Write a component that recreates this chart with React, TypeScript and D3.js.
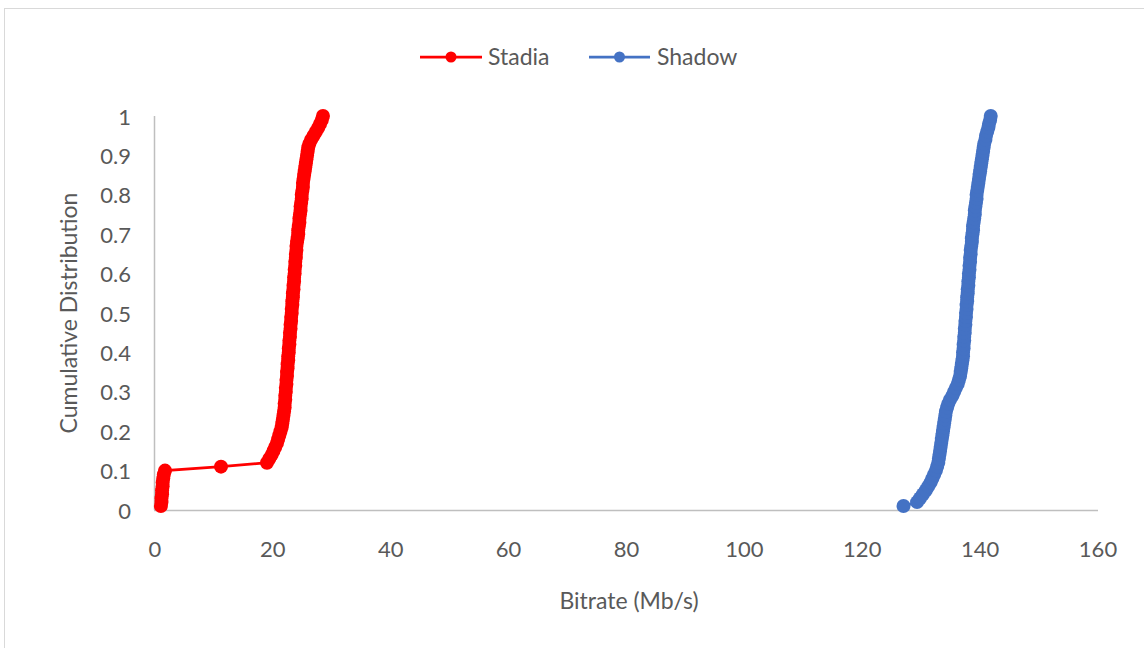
import React from "react";
import * as d3 from "d3";

const CDF = [
  0.01, 0.02, 0.03, 0.04, 0.05, 0.06, 0.07, 0.08, 0.09, 0.1,
  0.11, 0.12, 0.13, 0.14, 0.15, 0.16, 0.17, 0.18, 0.19, 0.2,
  0.21, 0.22, 0.23, 0.24, 0.25, 0.26, 0.27, 0.28, 0.29, 0.3,
  0.31, 0.32, 0.33, 0.34, 0.35, 0.36, 0.37, 0.38, 0.39, 0.4,
  0.41, 0.42, 0.43, 0.44, 0.45, 0.46, 0.47, 0.48, 0.49, 0.5,
  0.51, 0.52, 0.53, 0.54, 0.55, 0.56, 0.57, 0.58, 0.59, 0.6,
  0.61, 0.62, 0.63, 0.64, 0.65, 0.66, 0.67, 0.68, 0.69, 0.7,
  0.71, 0.72, 0.73, 0.74, 0.75, 0.76, 0.77, 0.78, 0.79, 0.8,
  0.81, 0.82, 0.83, 0.84, 0.85, 0.86, 0.87, 0.88, 0.89, 0.9,
  0.91, 0.92, 0.93, 0.94, 0.95, 0.96, 0.97, 0.98, 0.99, 1.0,
];

const STADIA = [
  1.0, 1.1, 1.1, 1.2, 1.2, 1.3, 1.3, 1.4, 1.5, 1.7,
  11.2, 19.0, 19.4, 19.8, 20.1, 20.4, 20.7, 20.9, 21.1, 21.3,
  21.5, 21.6, 21.7, 21.8, 21.9, 22.0, 22.0, 22.1, 22.1, 22.2,
  22.2, 22.3, 22.3, 22.4, 22.4, 22.5, 22.5, 22.6, 22.6, 22.7,
  22.7, 22.8, 22.8, 22.9, 22.9, 23.0, 23.0, 23.1, 23.1, 23.2,
  23.2, 23.3, 23.3, 23.4, 23.4, 23.5, 23.5, 23.6, 23.6, 23.7,
  23.7, 23.8, 23.8, 23.9, 23.9, 24.0, 24.0, 24.1, 24.2, 24.3,
  24.3, 24.4, 24.5, 24.5, 24.6, 24.7, 24.7, 24.8, 24.9, 24.9,
  25.0, 25.1, 25.1, 25.2, 25.3, 25.4, 25.5, 25.6, 25.7, 25.8,
  25.9, 26.0, 26.2, 26.5, 26.9, 27.3, 27.7, 28.0, 28.3, 28.5,
];

const SHADOW = [
  127.0, 129.3, 129.8, 130.3, 130.8, 131.2, 131.6, 131.9, 132.2, 132.5,
  132.7, 132.9, 133.0, 133.1, 133.2, 133.3, 133.4, 133.5, 133.6, 133.7,
  133.8, 133.9, 134.0, 134.1, 134.2, 134.4, 134.6, 134.9, 135.3, 135.6,
  135.9, 136.2, 136.4, 136.6, 136.7, 136.8, 136.9, 137.0, 137.1, 137.1,
  137.2, 137.2, 137.3, 137.3, 137.4, 137.4, 137.5, 137.5, 137.6, 137.6,
  137.7, 137.7, 137.8, 137.8, 137.9, 137.9, 138.0, 138.0, 138.1, 138.1,
  138.2, 138.2, 138.3, 138.3, 138.4, 138.4, 138.5, 138.6, 138.6, 138.7,
  138.8, 138.8, 138.9, 139.0, 139.1, 139.1, 139.2, 139.3, 139.4, 139.4,
  139.5, 139.6, 139.7, 139.8, 139.9, 140.0, 140.1, 140.2, 140.3, 140.4,
  140.5, 140.6, 140.7, 140.9, 141.0, 141.2, 141.4, 141.5, 141.7, 141.8,
];

const X_TICKS = [0, 20, 40, 60, 80, 100, 120, 140, 160];
const Y_TICKS = [0, 0.1, 0.2, 0.3, 0.4, 0.5, 0.6, 0.7, 0.8, 0.9, 1];
const SERIES_NAMES = ["Stadia", "Shadow"];
const SERIES_COLORS = ["#ff0000", "#4472c4"];
const X_TITLE = "Bitrate (Mb/s)";
const Y_TITLE = "Cumulative Distribution";

const W = 1144;
const H = 648;
const FONT = "Lato, 'Open Sans', sans-serif";
const TEXT = "#595959";
const AXIS = "#bfbfbf";

export default function App() {
  const x = d3.scaleLinear().domain([0, 160]).range([155, 1098]);
  const y = d3.scaleLinear().domain([0, 1]).range([510, 116]);

  const series = [STADIA, SHADOW].map((xs, si) => ({
    name: SERIES_NAMES[si],
    color: SERIES_COLORS[si],
    pts: xs.map((v, i) => [v, CDF[i]] as [number, number]),
  }));

  const line = d3
    .line<[number, number]>()
    .x((d) => x(d[0]))
    .y((d) => y(d[1]));

  const legend = [
    { x0: 420, x1: 482, tx: 488 },
    { x0: 589, x1: 650, tx: 657 },
  ];

  return (
    <svg
      width={W}
      height={H}
      style={{ position: "absolute", left: 0, top: 0, background: "#fff" }}
      fontFamily={FONT}
    >
      <rect x={4.5} y={8.5} width={1160} height={660} fill="#fff" stroke="#d9d9d9" strokeWidth={1} />

      {/* axes */}
      <line x1={x(0) - 0.5} x2={x(0) - 0.5} y1={y(1)} y2={y(0)} stroke={AXIS} strokeWidth={1.5} />
      <line x1={x(0) - 1} x2={x(160)} y1={y(0) + 0.5} y2={y(0) + 0.5} stroke={AXIS} strokeWidth={1.5} />

      {Y_TICKS.map((t) => (
        <text
          key={"y" + t}
          x={131}
          y={y(t)}
          textAnchor="end"
          dominantBaseline="central"
          fontSize={22}
          fill={TEXT}
        >
          {String(t)}
        </text>
      ))}
      {X_TICKS.map((t) => (
        <text
          key={"x" + t}
          x={x(t)}
          y={548}
          textAnchor="middle"
          dominantBaseline="central"
          fontSize={22}
          fill={TEXT}
        >
          {String(t)}
        </text>
      ))}

      <text x={629} y={600} textAnchor="middle" dominantBaseline="central" fontSize={23} fill={TEXT}>
        {X_TITLE}
      </text>
      <text
        transform={`translate(68, ${(y(0) + y(1)) / 2}) rotate(-90)`}
        textAnchor="middle"
        dominantBaseline="central"
        fontSize={23}
        fill={TEXT}
      >
        {Y_TITLE}
      </text>

      {series.map((s) => (
        <g key={s.name}>
          <path d={line(s.pts) || ""} fill="none" stroke={s.color} strokeWidth={2.75} />
          {s.pts.map((p, i) => (
            <circle key={i} cx={x(p[0])} cy={y(p[1])} r={7} fill={s.color} />
          ))}
        </g>
      ))}

      {series.map((s, i) => (
        <g key={"lg" + s.name}>
          <line x1={legend[i].x0} x2={legend[i].x1} y1={57} y2={57} stroke={s.color} strokeWidth={2.75} />
          <circle cx={(legend[i].x0 + legend[i].x1) / 2} cy={57} r={5.5} fill={s.color} />
          <text x={legend[i].tx} y={56} dominantBaseline="central" fontSize={23} fill={TEXT}>
            {s.name}
          </text>
        </g>
      ))}
    </svg>
  );
}
